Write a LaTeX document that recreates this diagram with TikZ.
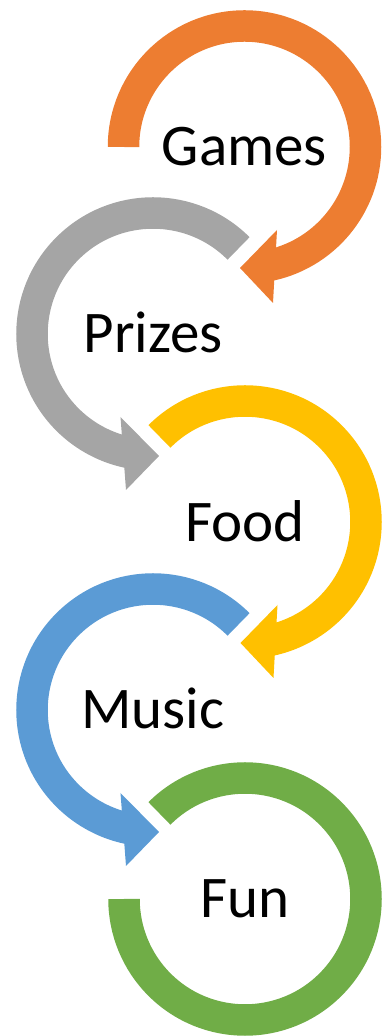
\documentclass[tikz,border=0pt]{standalone}
\usepackage{fontspec}
\setmainfont{Carlito}
\usepackage{tikz}

\definecolor{gamesorange}{HTML}{ED7D31}
\definecolor{prizesgray}{HTML}{A5A5A5}
\definecolor{foodyellow}{HTML}{FFC000}
\definecolor{musicblue}{HTML}{5B9BD5}
\definecolor{fungreen}{HTML}{70AD47}

\begin{document}
\begin{tikzpicture}[x=1pt, y=1pt]
  \tikzstyle{ring} = [line width=31.5pt]
  \tikzstyle{word} = [anchor=base, inner sep=0pt, font=\fontsize{59}{70}\selectfont]
  \useasboundingbox (0,0) rectangle (382,1036);

  % Define centres
  \coordinate (c1) at (244.5,889);
  \coordinate (c2) at (153,702);
  \coordinate (c3) at (245,514);
  \coordinate (c4) at (153,326);
  \coordinate (c5) at (245,137);

  % Define nodes
  \node[word] (games)  at ([yshift=-19pt]c1) {Games};
  \node[word] (prizes) at ([yshift=-19pt]c2) {Prizes};
  \node[word] (food)   at ([yshift=-20pt]c3) {Food};
  \node[word] (music)  at ([yshift=-19pt]c4) {Music};
  \node[word] (fun)    at ([yshift=-19pt]c5) {Fun};

  % Rings
  \draw[ring, gamesorange] (c1) ++(180:121) arc[start angle=180, end angle=-80, radius=121];
  \draw[ring, prizesgray]  (c2) ++(45:121)  arc[start angle=45, end angle=260, radius=121];
  \draw[ring, foodyellow]  (c3) ++(135:121) arc[start angle=135, end angle=-80, radius=121];
  \draw[ring, musicblue]   (c4) ++(45:121)  arc[start angle=45, end angle=260, radius=121];
  \draw[ring, fungreen]    (c5) ++(135:121) arc[start angle=135, end angle=-180, radius=121];

  % Arrow heads
  \fill[gamesorange] ([shift={(32.5,-83)}]c1) -- ([shift={(-4.5,-121)}]c1) -- ([shift={(28.5,-156)}]c1) -- cycle;
  \fill[prizesgray]  ([shift={(-32.5,-83)}]c2) -- ([shift={(6,-122)}]c2) -- ([shift={(-27,-156)}]c2) -- cycle;
  \fill[foodyellow]  ([shift={(32.5,-83)}]c3) -- ([shift={(-4.5,-121)}]c3) -- ([shift={(28.5,-156)}]c3) -- cycle;
  \fill[musicblue]   ([shift={(-32.5,-83)}]c4) -- ([shift={(6,-122)}]c4) -- ([shift={(-27,-156)}]c4) -- cycle;
\end{tikzpicture}
\end{document}
